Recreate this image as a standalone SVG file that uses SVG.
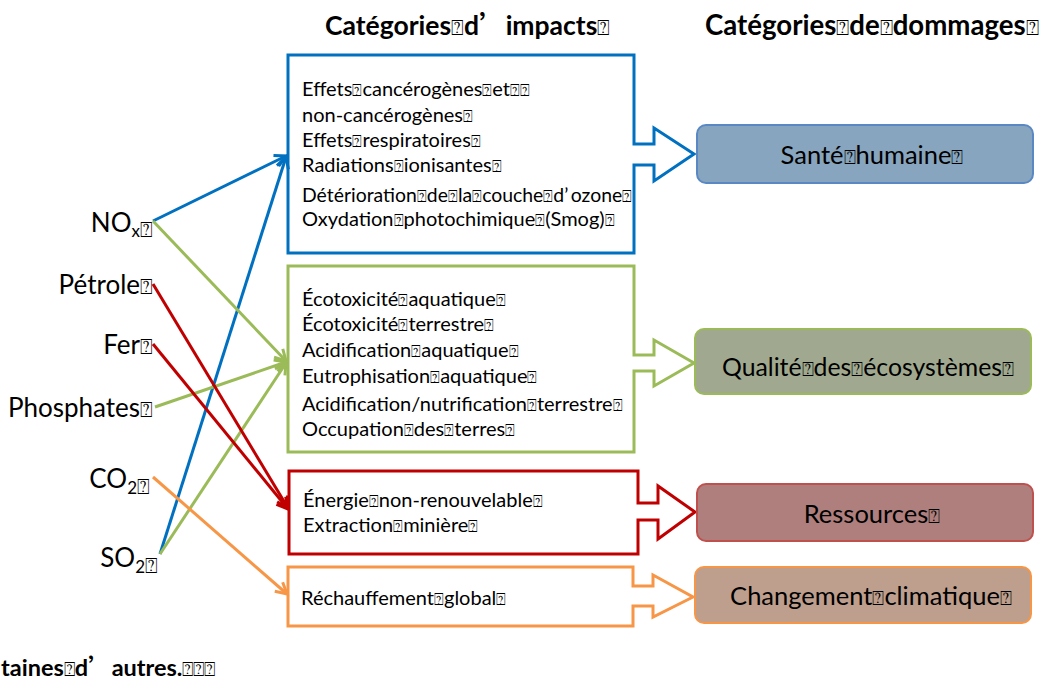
<svg xmlns="http://www.w3.org/2000/svg" width="1046" height="682" viewBox="0 0 1046 682">
<style>
text{font-family:Lato,"Noto Sans",sans-serif;fill:#000}
.t{font-size:26.5px;font-weight:bold}
.b{font-size:20px}
.l{font-size:26px}
.r{font-size:25.5px}
.q{font-family:"DejaVu Sans",sans-serif;font-size:0.8em;font-weight:normal}
.ap{font-family:"Noto Sans CJK SC",sans-serif}
.c{fill:none;stroke-width:3}
</style>
<defs>
<marker id="mb" markerUnits="userSpaceOnUse" markerWidth="16" markerHeight="16" refX="13" refY="8" orient="auto"><path d="M2,2 L13,8 L2,14" fill="none" stroke="#0070C0" stroke-width="3"/></marker>
<marker id="mg" markerUnits="userSpaceOnUse" markerWidth="16" markerHeight="16" refX="13" refY="8" orient="auto"><path d="M2,2 L13,8 L2,14" fill="none" stroke="#9BBB59" stroke-width="3"/></marker>
<marker id="mr" markerUnits="userSpaceOnUse" markerWidth="16" markerHeight="16" refX="13" refY="8" orient="auto"><path d="M2,2 L13,8 L2,14" fill="none" stroke="#C00000" stroke-width="3"/></marker>
<marker id="mo" markerUnits="userSpaceOnUse" markerWidth="16" markerHeight="16" refX="13" refY="8" orient="auto"><path d="M2,2 L13,8 L2,14" fill="none" stroke="#F79646" stroke-width="3"/></marker>
</defs>
<rect width="1046" height="682" fill="#fff"/>

<g id="titles">
<text class="t" x="325" y="35">Catégories<tspan class="q">⍰</tspan>d<tspan class="ap">’</tspan>impacts<tspan class="q">⍰</tspan></text>
<text class="t" x="705" y="35" style="font-size:27.6px">Catégories<tspan class="q">⍰</tspan>de<tspan class="q">⍰</tspan>dommages<tspan class="q">⍰</tspan></text>
</g>

<g id="impact-sante">
<path d="M288,55 H634 V144 H654 V128 L694,154 L654,181 V165 H634 V253 H288 Z" fill="#fff" stroke="#0070C0" stroke-width="3" stroke-linejoin="miter"/>
<text class="b" x="302" y="96">Effets<tspan class="q">⍰</tspan>cancérogènes<tspan class="q">⍰</tspan>et<tspan class="q">⍰⍰</tspan></text>
<text class="b" x="302" y="122">non-cancérogènes<tspan class="q">⍰</tspan></text>
<text class="b" x="302" y="147">Effets<tspan class="q">⍰</tspan>respiratoires<tspan class="q">⍰</tspan></text>
<text class="b" x="302" y="172">Radiations<tspan class="q">⍰</tspan>ionisantes<tspan class="q">⍰</tspan></text>
<text class="b" x="302" y="202" style="font-size:19.4px">Détérioration<tspan class="q">⍰</tspan>de<tspan class="q">⍰</tspan>la<tspan class="q">⍰</tspan>couche<tspan class="q">⍰</tspan>d’<tspan dx="3">ozone</tspan><tspan class="q">⍰</tspan></text>
<text class="b" x="302" y="226">Oxydation<tspan class="q">⍰</tspan>photochimique<tspan class="q">⍰</tspan>(Smog)<tspan class="q">⍰</tspan></text>
</g>

<g id="impact-eco">
<path d="M288,266 H634 V355 H654 V340 L694,363 L654,386 V371 H634 V452 H288 Z" fill="#fff" stroke="#9BBB59" stroke-width="3"/>
<text class="b" x="302" y="306">Écotoxicité<tspan class="q">⍰</tspan>aquatique<tspan class="q">⍰</tspan></text>
<text class="b" x="302" y="331">Écotoxicité<tspan class="q">⍰</tspan>terrestre<tspan class="q">⍰</tspan></text>
<text class="b" x="302" y="357">Acidification<tspan class="q">⍰</tspan>aquatique<tspan class="q">⍰</tspan></text>
<text class="b" x="302" y="383">Eutrophisation<tspan class="q">⍰</tspan>aquatique<tspan class="q">⍰</tspan></text>
<text class="b" x="302" y="411">Acidification/nutrification<tspan class="q">⍰</tspan>terrestre<tspan class="q">⍰</tspan></text>
<text class="b" x="302" y="436">Occupation<tspan class="q">⍰</tspan>des<tspan class="q">⍰</tspan>terres<tspan class="q">⍰</tspan></text>
</g>

<g id="impact-ressources">
<path d="M289,471 H638 V503 H658 V486 L695,512 L658,539 V520 H638 V554 H289 Z" fill="#fff" stroke="#C00000" stroke-width="3"/>
<text class="b" x="303" y="507">Énergie<tspan class="q">⍰</tspan>non-renouvelable<tspan class="q">⍰</tspan></text>
<text class="b" x="303" y="532">Extraction<tspan class="q">⍰</tspan>minière<tspan class="q">⍰</tspan></text>
</g>

<g id="impact-climat">
<path d="M288,567 H633 V586 H653 V575 L693,597 L653,617 V606 H633 V626 H288 Z" fill="#fff" stroke="#F79646" stroke-width="3"/>
<text class="b" x="301" y="605">Réchauffement<tspan class="q">⍰</tspan>global<tspan class="q">⍰</tspan></text>
</g>

<g id="dmg-sante">
<rect x="697" y="125" width="336" height="58" rx="9" fill="#87A5BE" stroke="#5A88C4" stroke-width="2"/>
<text class="r" x="872" y="164" text-anchor="middle">Santé<tspan class="q">⍰</tspan>humaine<tspan class="q">⍰</tspan></text>
</g>
<g id="dmg-eco">
<rect x="695" y="329" width="336" height="65" rx="9" fill="#A0A98F" stroke="#9BBB59" stroke-width="2"/>
<text class="r" x="868" y="376" text-anchor="middle" style="font-size:24.8px">Qualité<tspan class="q">⍰</tspan>des<tspan class="q">⍰</tspan>écosystèmes<tspan class="q">⍰</tspan></text>
</g>
<g id="dmg-ressources">
<rect x="697" y="484" width="336" height="57" rx="9" fill="#AE7F7D" stroke="#C0504D" stroke-width="2"/>
<text class="r" x="872" y="523" text-anchor="middle">Ressources<tspan class="q">⍰</tspan></text>
</g>
<g id="dmg-climat">
<rect x="695" y="567" width="336" height="56" rx="9" fill="#BE9E8D" stroke="#F79646" stroke-width="2"/>
<text class="r" x="871" y="605" text-anchor="middle">Changement<tspan class="q">⍰</tspan>climatique<tspan class="q">⍰</tspan></text>
</g>

<g id="src-nox"><text class="l" x="153" y="232" text-anchor="end">NO<tspan font-size="17" dy="5">x</tspan><tspan class="q" font-size="15">⍰</tspan></text></g>
<g id="src-petrole"><text class="l" x="153" y="294" text-anchor="end">Pétrole<tspan class="q">⍰</tspan></text></g>
<g id="src-fer"><text class="l" x="153" y="354" text-anchor="end">Fer<tspan class="q">⍰</tspan></text></g>
<g id="src-phosphates"><text class="l" x="153" y="417" text-anchor="end">Phosphates<tspan class="q">⍰</tspan></text></g>
<g id="src-co2"><text class="l" x="150" y="488" text-anchor="end">CO<tspan font-size="17" dy="6">2</tspan><tspan class="q" font-size="15">⍰</tspan></text></g>
<g id="src-so2"><text class="l" x="158" y="567" text-anchor="end">SO<tspan font-size="17" dy="6">2</tspan><tspan class="q" font-size="15">⍰</tspan></text></g>

<g id="connectors">
<line class="c" x1="153" y1="221" x2="286" y2="156" stroke="#0070C0" marker-end="url(#mb)"/>
<line class="c" x1="160" y1="554" x2="286" y2="157" stroke="#0070C0" marker-end="url(#mb)"/>
<line class="c" x1="153" y1="221" x2="286" y2="361" stroke="#9BBB59" marker-end="url(#mg)"/>
<line class="c" x1="155" y1="407" x2="286" y2="362" stroke="#9BBB59" marker-end="url(#mg)"/>
<line class="c" x1="160" y1="554" x2="286" y2="363" stroke="#9BBB59" marker-end="url(#mg)"/>
<line class="c" x1="153" y1="284" x2="288" y2="508" stroke="#C00000" marker-end="url(#mr)"/>
<line class="c" x1="153" y1="344" x2="288" y2="509" stroke="#C00000" marker-end="url(#mr)"/>
<line class="c" x1="153" y1="477" x2="287" y2="594" stroke="#F79646" marker-end="url(#mo)"/>
</g>

<g id="footer">
<text class="t" x="1" y="676" style="font-size:23.5px">taines<tspan class="q">⍰</tspan>d<tspan class="ap">’</tspan>autres.<tspan class="q">⍰⍰⍰</tspan></text>
</g>
</svg>
